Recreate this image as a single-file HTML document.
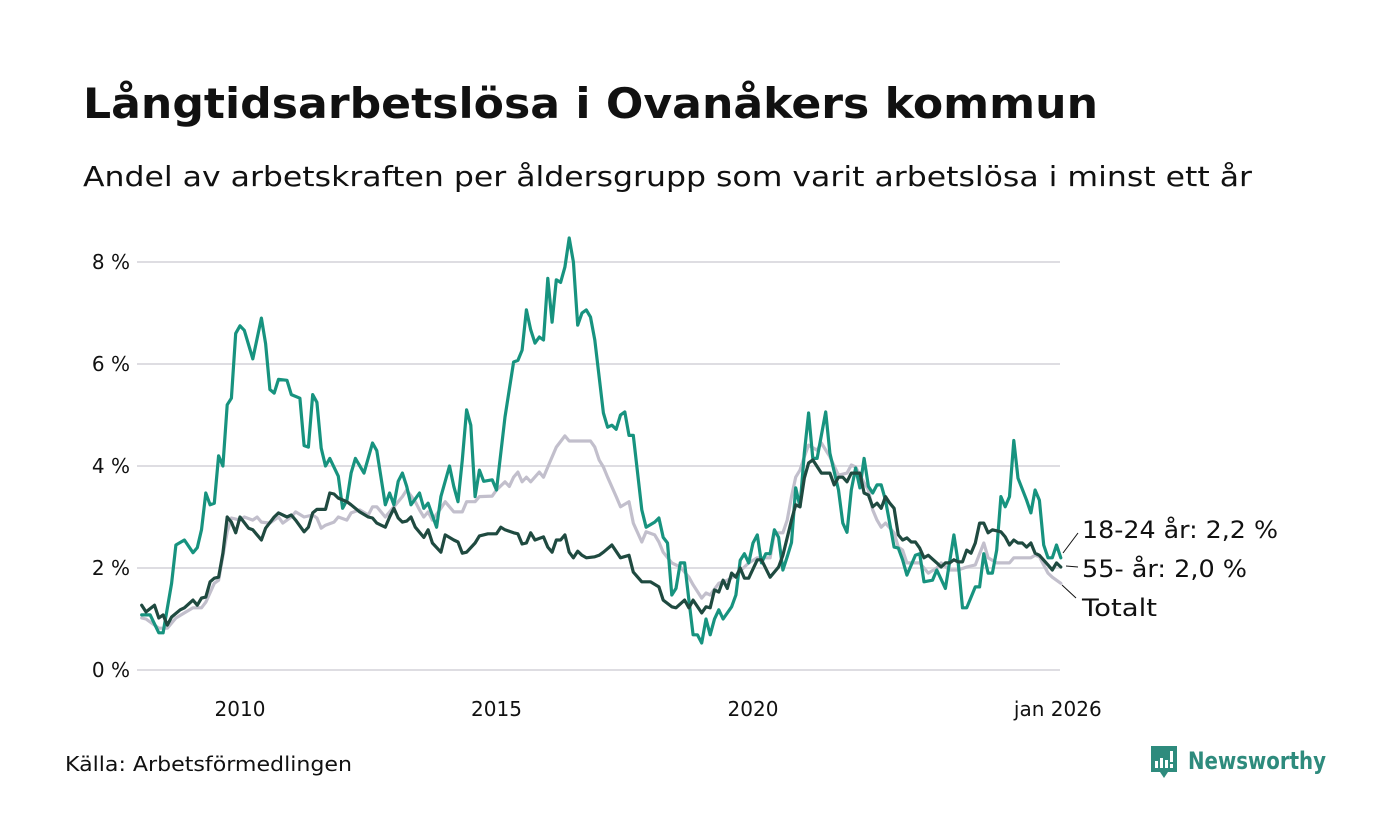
<!DOCTYPE html>
<html><head><meta charset="utf-8"><style>
body{margin:0;background:#fff;width:1400px;height:840px;overflow:hidden;font-family:"DejaVu Sans",sans-serif;}
svg{display:block}
</style></head><body>
<svg id="chart" width="1400" height="840" font-family="'DejaVu Sans', 'Liberation Sans', sans-serif">
<text x="83" y="118" font-size="42" font-weight="bold" fill="#111" textLength="1015" lengthAdjust="spacingAndGlyphs">Långtidsarbetslösa i Ovanåkers kommun</text>
<text x="83" y="186" font-size="28" fill="#111" textLength="1169" lengthAdjust="spacingAndGlyphs">Andel av arbetskraften per åldersgrupp som varit arbetslösa i minst ett år</text>
<g id="grid"></g>
<g id="yt"></g>
<g id="xt"></g>
<g id="lines"></g>
<g font-size="24" fill="#111">
<line x1="1063" y1="553" x2="1078" y2="533" stroke="#111" stroke-width="1"/>
<text x="1082" y="538" textLength="196" lengthAdjust="spacingAndGlyphs">18-24 år: 2,2 %</text>
<line x1="1066" y1="566" x2="1078" y2="567" stroke="#111" stroke-width="1"/>
<text x="1082" y="577" textLength="165" lengthAdjust="spacingAndGlyphs">55- år: 2,0 %</text>
<line x1="1062" y1="585" x2="1076" y2="598" stroke="#111" stroke-width="1"/>
<text x="1082" y="616" textLength="75" lengthAdjust="spacingAndGlyphs">Totalt</text>
</g>
<text x="65" y="771" font-size="20" fill="#111" textLength="287" lengthAdjust="spacingAndGlyphs">Källa: Arbetsförmedlingen</text>
<g>
<path d="M1151 746 h26 v26 h-9 l-4 6 l-4 -6 h-9 z" fill="#2e8b7d"/>
<rect x="1155" y="761" width="3" height="7" fill="#fff"/><rect x="1160" y="758" width="3" height="10" fill="#fff"/><rect x="1165" y="760" width="3" height="8" fill="#fff"/><rect x="1170" y="751" width="3" height="11" fill="#fff"/><rect x="1170" y="764" width="3" height="4" fill="#fff"/>
<text x="1188" y="769" font-size="24" font-weight="bold" fill="#2e8b7d" textLength="138" lengthAdjust="spacingAndGlyphs">Newsworthy</text>
</g>
</svg>
<script>
// month index = months since Jan 2008
const yTicks=[0,2,4,6,8];
const yTickLabels=["0 %","2 %","4 %","6 %","8 %"];
const xTickMonths=[24,84,144,216];
const xTickLabels=["2010","2015","2020","jan 2026"];
const youngMonths=[1,3,5,6,8,9,11,13,14,15,16,17,18,19,20,21,22,23,24,25,27,29,30,31,32,33,35,36,38,39,40,41,42,43,44,45,47,48,49,50,51,53,55,56,58,59,60,61,62,63,64,66,67,68,70,71,73,74,75,76,77,78,79,80,81,83,84,86,88,89,90,91,92,93,94,95,96,97,98,99,100,101,102,103,104,105,106,107,109,110,111,112,113,114,115,116,118,119,121,122,123,124,125,126,127,128,129,130,131,132,133,134,135,136,137,139,140,141,142,143,144,145,146,147,148,149,150,151,152,153,154,155,156,157,158,159,161,162,164,165,166,167,168,169,170,171,172,173,174,175,177,178,179,180,182,183,184,186,187,189,191,192,193,194,196,197,198,199,200,201,202,203,204,205,206,208,209,210,211,212,213,214,215,216];
const youngValues=[1.08,1.08,0.73,0.73,1.7,2.45,2.55,2.3,2.4,2.75,3.47,3.24,3.27,4.2,4.0,5.2,5.33,6.6,6.75,6.66,6.1,6.9,6.4,5.5,5.43,5.7,5.68,5.4,5.33,4.4,4.37,5.4,5.25,4.35,4.0,4.15,3.8,3.17,3.33,3.86,4.15,3.86,4.45,4.3,3.24,3.47,3.24,3.7,3.86,3.6,3.24,3.47,3.17,3.27,2.8,3.4,4.0,3.6,3.3,4.12,5.1,4.8,3.4,3.92,3.7,3.73,3.53,4.96,6.04,6.07,6.27,7.06,6.67,6.41,6.53,6.47,7.68,6.82,7.65,7.6,7.9,8.47,8.0,6.76,7.0,7.06,6.92,6.47,5.04,4.76,4.8,4.72,5.0,5.06,4.6,4.6,3.14,2.8,2.9,2.98,2.6,2.49,1.47,1.6,2.1,2.1,1.37,0.69,0.69,0.53,1.0,0.69,1.0,1.18,1.0,1.24,1.47,2.15,2.28,2.1,2.49,2.65,2.1,2.28,2.28,2.75,2.6,1.96,2.22,2.5,3.57,3.2,4.25,5.04,4.15,4.15,5.06,4.25,3.53,2.88,2.7,3.53,3.96,3.57,4.15,3.6,3.47,3.63,3.63,3.33,2.41,2.39,2.16,1.86,2.25,2.28,1.73,1.76,1.96,1.6,2.65,2.1,1.22,1.22,1.63,1.63,2.28,1.9,1.9,2.35,3.4,3.2,3.4,4.5,3.76,3.33,3.08,3.53,3.33,2.45,2.2,2.2,2.45,2.2];
const oldMonths=[1,2,4,5,6,7,8,10,11,13,14,15,16,17,18,19,20,21,22,23,24,26,27,29,30,32,33,35,36,37,39,40,41,42,44,45,46,47,49,50,52,54,55,56,58,59,60,61,62,63,64,65,67,68,69,71,72,74,75,76,77,79,80,82,84,85,86,88,89,90,91,92,93,95,96,97,98,99,100,101,102,103,104,105,107,108,109,111,113,115,116,118,120,122,123,125,126,128,129,130,132,133,134,135,136,137,138,139,140,141,142,143,145,146,148,150,151,153,154,155,156,157,158,160,162,163,164,165,166,167,169,170,171,172,173,174,175,176,177,178,179,180,181,182,183,184,185,187,188,189,190,191,192,193,194,195,196,197,198,199,200,202,203,204,205,206,207,208,209,210,211,213,214,215,216];
const oldValues=[1.27,1.14,1.27,1.02,1.08,0.88,1.04,1.18,1.22,1.37,1.27,1.41,1.43,1.73,1.8,1.82,2.29,3.0,2.9,2.69,3.0,2.78,2.75,2.55,2.78,3.0,3.08,3.0,3.04,2.94,2.71,2.8,3.08,3.15,3.15,3.47,3.45,3.37,3.3,3.24,3.1,3.0,2.98,2.88,2.8,3.0,3.17,2.98,2.9,2.92,3.0,2.8,2.6,2.75,2.49,2.31,2.65,2.55,2.51,2.29,2.31,2.49,2.63,2.67,2.67,2.8,2.75,2.69,2.67,2.47,2.49,2.69,2.55,2.61,2.41,2.31,2.55,2.55,2.65,2.31,2.2,2.33,2.25,2.2,2.22,2.25,2.31,2.45,2.2,2.25,1.92,1.73,1.73,1.63,1.37,1.24,1.22,1.37,1.22,1.37,1.12,1.24,1.22,1.57,1.53,1.76,1.6,1.9,1.82,2.0,1.8,1.8,2.16,2.16,1.82,2.02,2.25,2.94,3.24,3.2,3.76,4.06,4.12,3.86,3.86,3.63,3.78,3.78,3.69,3.86,3.86,3.47,3.43,3.2,3.27,3.17,3.4,3.27,3.17,2.65,2.55,2.59,2.51,2.51,2.39,2.2,2.25,2.1,2.02,2.1,2.1,2.16,2.12,2.12,2.35,2.29,2.49,2.88,2.88,2.69,2.75,2.71,2.61,2.45,2.55,2.49,2.49,2.41,2.49,2.29,2.25,2.06,1.96,2.1,2.02];
const totalMonths=[1,2,5,7,9,11,13,15,16,18,19,21,22,24,25,27,28,29,31,33,34,36,37,39,41,42,43,44,46,47,49,50,52,54,55,56,58,60,62,63,65,66,67,68,69,71,72,74,76,77,79,80,83,84,86,87,88,89,90,91,92,94,95,96,98,100,101,106,107,108,109,110,112,113,115,116,118,119,121,122,123,125,127,129,130,132,133,134,136,138,140,142,143,145,146,148,149,151,152,153,154,155,156,157,159,160,162,164,166,167,168,169,171,172,173,174,175,177,178,179,180,181,183,185,187,188,190,192,194,196,198,199,201,202,204,205,209,210,211,213,214,216];
const totalValues=[1.02,1.0,0.82,0.82,1.02,1.12,1.22,1.22,1.33,1.7,1.76,2.71,2.98,2.94,3.0,2.94,3.0,2.9,2.88,3.0,2.88,3.0,3.1,3.0,3.04,2.98,2.78,2.84,2.9,3.0,2.94,3.08,3.14,3.04,3.2,3.2,3.0,3.2,3.4,3.53,3.3,3.14,3.0,3.1,2.94,3.17,3.3,3.1,3.1,3.3,3.3,3.4,3.41,3.53,3.69,3.6,3.78,3.88,3.69,3.78,3.69,3.88,3.78,3.98,4.37,4.59,4.49,4.49,4.37,4.12,3.98,3.78,3.4,3.2,3.3,2.88,2.51,2.71,2.65,2.51,2.31,2.1,2.02,1.82,1.67,1.41,1.51,1.47,1.7,1.76,1.86,2.02,2.1,2.2,2.2,2.2,2.69,2.69,2.94,3.4,3.78,3.92,4.18,4.41,4.31,4.45,4.18,3.82,3.86,4.02,3.98,3.82,3.53,3.14,2.94,2.8,2.88,2.69,2.41,2.35,2.1,2.1,2.1,1.9,2.0,2.1,1.96,1.96,2.02,2.06,2.49,2.2,2.1,2.1,2.1,2.2,2.2,2.25,2.22,1.9,1.82,1.7];

const NS='http://www.w3.org/2000/svg';
const X0=137.4, PXM=51.3/12, Y0=670, PXV=51;
const xs=m=>X0+m*PXM;
const ys=v=>Y0-v*PXV;
function mk(tag,attrs,parent){const e=document.createElementNS(NS,tag);for(const k in attrs)e.setAttribute(k,attrs[k]);parent.appendChild(e);return e;}
const grid=document.getElementById('grid'),yt=document.getElementById('yt'),xt=document.getElementById('xt'),lines=document.getElementById('lines');
yTicks.forEach((v,i)=>{
  const l=mk('line',{x1:137,x2:1060,y1:ys(v),y2:ys(v),stroke:'#dedde2','stroke-width':2},grid);
  
  
  const t=mk('text',{x:130,y:ys(v)+7,'text-anchor':'end','font-size':20,fill:'#111'},yt);
  t.textContent=yTickLabels[i];
  
  
});
xTickMonths.forEach((m,i)=>{
  const t=mk('text',{x:xs(m)-(i===3?3:0),y:716,'text-anchor':'middle','font-size':20,fill:'#111'},xt);
  t.textContent=xTickLabels[i];
  
  
});
function draw(ms,vs,color,name){
  const d=ms.map((m,i)=>(i?'L':'M')+xs(m).toFixed(1)+' '+ys(vs[i]).toFixed(1)).join(' ');
  const p=mk('path',{d:d,fill:'none',stroke:color,'stroke-width':3.2,'stroke-linejoin':'round','stroke-linecap':'round'},lines);
  
  
}
draw(totalMonths,totalValues,'#c2bfcc','line-totalt');
draw(youngMonths,youngValues,'#17937f','line-18-24');
draw(oldMonths,oldValues,'#1f4a40','line-55');
</script>
</body></html>
